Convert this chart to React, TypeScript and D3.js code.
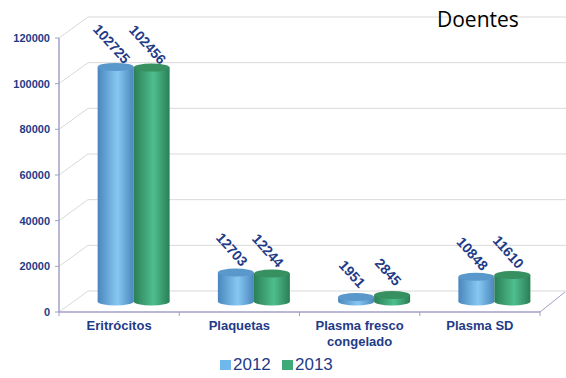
import React from "react";
import * as d3 from "d3";

const categories = ["Eritrócitos", "Plaquetas", "Plasma fresco congelado", "Plasma SD"];
const categoryLines = [["Eritrócitos"], ["Plaquetas"], ["Plasma fresco", "congelado"], ["Plasma SD"]];
const series = ["2012", "2013"];
const values2012 = [102725, 12703, 1951, 10848];
const values2013 = [102456, 12244, 2845, 11610];
const yTicks = [0, 20000, 40000, 60000, 80000, 100000, 120000];
const title = "Doentes";

const W = 566, H = 378;
const left = 59, right = 540, top = 38, bottom = 312;
const depthX = 29, depthY = -21;
const navy = "#1F3B87";

export default function App() {
  const y = d3.scaleLinear().domain([0, 120000]).range([bottom, top]);
  const x = d3.scaleBand().domain(categories).range([left, right]).padding(0);
  const inner = d3.scaleBand().domain(series).range([0, 72]).padding(0);
  const dataBySeries = [values2012, values2013];
  const colors = [
    { id: "g2012", edge: "#4A86BD", mid: "#86C8F2", top: "#5A98CC" },
    { id: "g2013", edge: "#2A7F55", mid: "#4FBE8E", top: "#37905F" },
  ];
  const mx = depthX / 2, my = depthY / 2;
  const ry = 4;

  return (
    <svg width={W} height={H} style={{ position: "absolute", left: 0, top: 0 }} fontFamily="'Liberation Sans', Arial, sans-serif">
      <defs>
        {colors.map((c) => (
          <linearGradient key={c.id} id={c.id} x1="0" x2="1" y1="0" y2="0">
            <stop offset="0" stopColor={c.edge} />
            <stop offset="0.55" stopColor={c.mid} />
            <stop offset="1" stopColor={c.edge} />
          </linearGradient>
        ))}
      </defs>
      <rect width={W} height={H} fill="#fff" />
      {yTicks.map((t) => (
        <g key={t}>
          <line x1={left + depthX} x2={W} y1={y(t) + depthY} y2={y(t) + depthY} stroke="#D9D9D9" />
          <line x1={left} x2={left + depthX} y1={y(t)} y2={y(t) + depthY} stroke="#D9D9D9" />
        </g>
      ))}
      <line x1={right} y1={bottom} x2={right + 25} y2={bottom + depthY + 1} stroke="#A0A0C8" />
      <line x1={left} x2={left} y1={top} y2={bottom} stroke="#A0A0C8" strokeWidth={1.5} />
      <line x1={left} x2={right} y1={bottom} y2={bottom} stroke="#A0A0C8" strokeWidth={1.5} />
      {yTicks.map((t) => (
        <g key={"yt" + t}>
          <line x1={left - 4} x2={left} y1={y(t)} y2={y(t)} stroke="#A0A0C8" />
          <text x={50} y={y(t)} dy="0.35em" textAnchor="end" fontSize={11} fontWeight="bold" fill={navy}>{t}</text>
        </g>
      ))}
      {categories.map((c) => (
        <line key={"xt" + c} x1={x(c)!} x2={x(c)!} y1={bottom} y2={bottom + 4} stroke="#A0A0C8" />
      ))}
      <line x1={right} x2={right} y1={bottom} y2={bottom + 4} stroke="#A0A0C8" />
      {categories.map((c, ci) =>
        series.map((s, si) => {
          const v = dataBySeries[si][ci];
          const w = inner.bandwidth();
          const x0 = x(c)! + (x.bandwidth() - 72) / 2 + inner(s)! + mx;
          const cx = x0 + w / 2;
          const yT = y(v) + my;
          const yB = y(0) + my;
          const col = colors[si];
          return (
            <g key={c + s}>
              <ellipse cx={cx} cy={yB} rx={w / 2} ry={ry} fill={`url(#${col.id})`} />
              <rect x={x0} y={yT} width={w} height={yB - yT} fill={`url(#${col.id})`} />
              <ellipse cx={cx} cy={yT} rx={w / 2} ry={ry} fill={col.top} />
            </g>
          );
        })
      )}
      {categories.map((c, ci) =>
        series.map((s, si) => {
          const v = dataBySeries[si][ci];
          const w = inner.bandwidth();
          const x0 = x(c)! + (x.bandwidth() - 72) / 2 + inner(s)! + mx;
          const cx = x0 + w / 2 - 4;
          const cy = y(v) + my - 23;
          return (
            <text key={"l" + c + s} transform={`translate(${cx},${cy}) rotate(48)`} textAnchor="middle" dy="0.35em"
              fontSize={14} fontWeight="bold" fill={navy}>{v}</text>
          );
        })
      )}
      {categories.map((c, ci) => (
        <text key={"c" + c} x={x(c)! + x.bandwidth() / 2} y={330} textAnchor="middle" fontSize={13} fontWeight="bold" fill={navy}>
          {categoryLines[ci].map((ln, li) => (
            <tspan key={li} x={x(c)! + x.bandwidth() / 2} dy={li === 0 ? 0 : 16}>{ln}</tspan>
          ))}
        </text>
      ))}
      {series.map((s, si) => (
        <g key={"lg" + s} transform={`translate(${220 + si * 62},0)`}>
          <rect x={0} y={360} width={11} height={10} fill={si === 0 ? "#6FB8EC" : "#3DAA78"} />
          <text x={13} y={370} fontSize={17} fill={navy}>{s}</text>
        </g>
      ))}
      <text x={437} y={27} fontSize={21} fill="#000" fontFamily="'Open Sans', 'Noto Sans', sans-serif">{title}</text>
    </svg>
  );
}
